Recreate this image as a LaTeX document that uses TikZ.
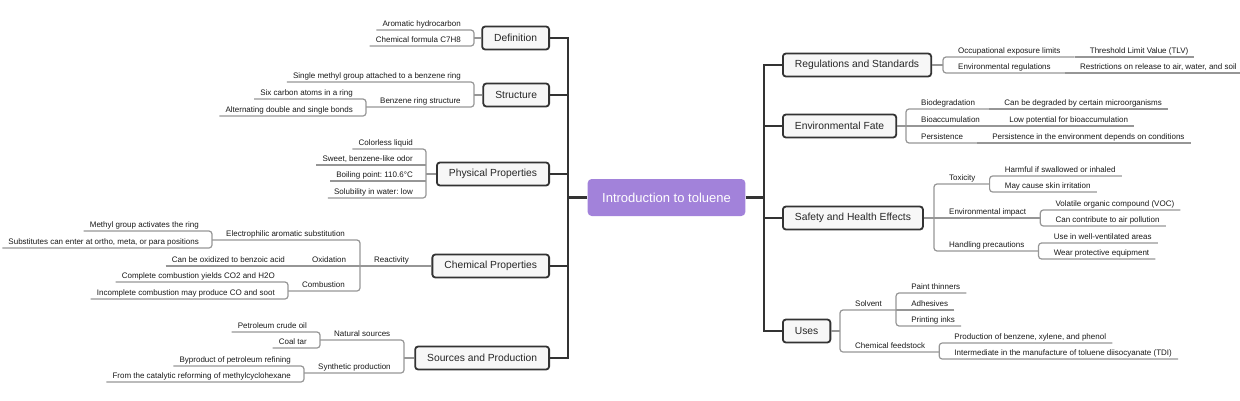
\documentclass[tikz,border=0pt]{standalone}
\usepackage{fontspec}
\setmainfont{Liberation Sans}
\usetikzlibrary{positioning}
\frenchspacing
\definecolor{rootfill}{RGB}{162,130,218}
\definecolor{boxline}{RGB}{51,51,51}
\definecolor{twiggray}{RGB}{150,150,150}
\tikzset{
	topic/.style={draw=boxline, line width=1.8pt, fill=gray!6, rounded corners=3pt, minimum height=23pt, inner xsep=12pt, text=black!85, font=\fontsize{10.3}{12}\selectfont},
	branch/.style={inner xsep=14pt, inner ysep=1.5pt, text height=6pt, text depth=2pt, text=black!90, font=\fontsize{8}{9}\selectfont},
	leaf/.style={branch, inner xsep=6pt},
	trunk/.style={draw=boxline, line width=2.2pt},
	twig/.style={draw=twiggray, line width=1.2pt, rounded corners=3pt}
}

\begin{document}
\begin{tikzpicture}[x=1pt,y=-1pt]
	\useasboundingbox (0,0) rectangle (1240,400);
	\node[fill=rootfill, rounded corners=4pt, text=white, minimum height=37pt, inner xsep=14.5pt, font=\fontsize{13}{15}\selectfont] (root) at (666.5,197.5) {Introduction to toluene};

	\begin{scope}[every node/.append style={anchor=east}]
		\node[topic] (def) at (550,38) {Definition};
		\node[topic] (str) at (550,95) {Structure};
		\node[topic] (phy) at (550,174) {Physical Properties};
		\node[topic] (chem) at (550,266) {Chemical Properties};
		\node[topic] (src) at (550,358) {Sources and Production};
	\end{scope}
	\begin{scope}[every node/.append style={anchor=west}]
		\node[topic] (reg) at (782,65) {Regulations and Standards};
		\node[topic] (fate) at (782,126) {Environmental Fate};
		\node[topic] (safe) at (782,218) {Safety and Health Effects};
		\node[topic] (uses) at (782,331) {Uses};
	\end{scope}

	\coordinate (lt) at (568,197.5);
	\coordinate (rt) at (764,197.5);
	\draw[trunk] (root.west) -- (lt);
	\draw[trunk] (def.east) -| (lt |- src.east) -- (src.east);
	\draw[trunk] (str.east) -- (lt |- str.east);
	\draw[trunk] (phy.east) -- (lt |- phy.east);
	\draw[trunk] (chem.east) -- (lt |- chem.east);
	\draw[trunk] (root.east) -- (rt);
	\draw[trunk] (reg.west) -| (rt |- uses.west) -- (uses.west);
	\draw[trunk] (fate.west) -- (rt |- fate.west);
	\draw[trunk] (safe.west) -- (rt |- safe.west);

	% left side
	\coordinate (bDef) at (474,38);
	\coordinate (bStr) at (474,95);
	\coordinate (bPhy) at (426,174);
	\coordinate (bSrc) at (404,358);
	\begin{scope}[every node/.append style={anchor=south east}]
		\node[leaf] (def1) at (467,30) {Aromatic hydrocarbon};
		\node[leaf] (def2) at (467,46) {Chemical formula C7H8};
		\node[leaf] (str1) at (467,82) {Single methyl group attached to a benzene ring};
		\node[leaf] (str21) at (359,99) {Six carbon atoms in a ring};
		\node[leaf] (str22) at (359,116) {Alternating double and single bonds};
		\node[leaf] (phy1) at (419,149) {Colorless liquid};
		\node[leaf] (phy2) at (419,165) {Sweet, benzene-like odor};
		\node[leaf] (phy3) at (419,181) {Boiling point: 110.6°C};
		\node[leaf] (phy4) at (419,198) {Solubility in water: low};
		\node[leaf] (elec1) at (205,231) {Methyl group activates the ring};
		\node[leaf] (elec2) at (205,248) {Substitutes can enter at ortho, meta, or para positions};
		\node[leaf] (oxid1) at (291,266) {Can be oxidized to benzoic acid};
		\node[leaf] (comb1) at (281,282) {Complete combustion yields CO2 and H2O};
		\node[leaf] (comb2) at (281,299) {Incomplete combustion may produce CO and soot};
		\node[leaf] (nat1) at (313,332) {Petroleum crude oil};
		\node[leaf] (nat2) at (313,348) {Coal tar};
		\node[leaf] (syn1) at (297,366) {Byproduct of petroleum refining};
		\node[leaf] (syn2) at (297,382) {From the catalytic reforming of methylcyclohexane};
	\end{scope}
	\begin{scope}[every node/.append style={anchor=south west}]
		\node[branch] (str2) at (366,107) {Benzene ring structure};
		\node[branch] (react) at (360,266) {Reactivity};
		\node[branch] (elec) at (212,240) {Electrophilic aromatic substitution};
		\node[branch] (oxid) at (298,266) {Oxidation};
		\node[branch] (comb) at (288,291) {Combustion};
		\node[branch] (nat) at (320,340) {Natural sources};
		\node[branch] (syn) at (304,373) {Synthetic production};
	\end{scope}

	\draw[twig] (bDef) -- (def.west);
	\draw[twig] (def1.south west) -| (bDef |- def2.south) -- (def2.south west);
	\draw[twig] (bStr) -- (str.west);
	\draw[twig] (str1.south west) -| (bStr |- str2.south) -- (str2.south west);
	\draw[twig] (str21.south west) -| (str2.south west |- str22.south) -- (str22.south west);
	\draw[twig] (bPhy) -- (phy.west);
	\draw[twig] (phy1.south west) -| (bPhy |- phy4.south) -- (phy4.south west);
	\draw[twig] (phy2.south west) -- (bPhy |- phy2.south);
	\draw[twig] (phy3.south west) -- (bPhy |- phy3.south);
	\draw[twig] (react.south west) -- (chem.west);
	\draw[twig] (elec.south west) -| (react.south west |- comb.south) -- (comb.south west);
	\draw[twig] (oxid.south west) -- (react.south west);
	\draw[twig] (elec1.south west) -| (elec.south west |- elec2.south) -- (elec2.south west);
	\draw[twig] (oxid1.south west) -- (oxid.south west);
	\draw[twig] (comb1.south west) -| (comb.south west |- comb2.south) -- (comb2.south west);
	\draw[twig] (bSrc) -- (src.west);
	\draw[twig] (nat.south west) -| (bSrc |- syn.south) -- (syn.south west);
	\draw[twig] (nat1.south west) -| (nat.south west |- nat2.south) -- (nat2.south west);
	\draw[twig] (syn1.south west) -| (syn.south west |- syn2.south) -- (syn2.south west);

	% right side
	\coordinate (bReg) at (943,65);
	\coordinate (bFate) at (906,126);
	\coordinate (bSafe) at (934,218);
	\coordinate (bUses) at (840,331);
	\begin{scope}[every node/.append style={anchor=south west}]
		\node[branch] (occ) at (944,57) {Occupational exposure limits};
		\node[branch] (law) at (944,73) {Environmental regulations};
		\node[branch] (bio) at (907,109) {Biodegradation};
		\node[branch] (acc) at (907,126) {Bioaccumulation};
		\node[branch] (per) at (907,143) {Persistence};
		\node[branch] (tox) at (935,184) {Toxicity};
		\node[branch] (imp) at (935,218) {Environmental impact};
		\node[branch] (hand) at (935,251) {Handling precautions};
		\node[branch] (solv) at (841,310) {Solvent};
		\node[branch] (feed) at (841,352) {Chemical feedstock};

		\node[leaf] (occ1) at ([xshift=9pt]occ.south east) {Threshold Limit Value (TLV)};
		\node[leaf] (law1) at ([xshift=9pt]law.south east) {Restrictions on release to air, water, and soil};
		\node[leaf] (bio1) at ([xshift=9pt]bio.south east) {Can be degraded by certain microorganisms};
		\node[leaf] (acc1) at ([xshift=9pt]acc.south east) {Low potential for bioaccumulation};
		\node[leaf] (per1) at ([xshift=9pt]per.south east) {Persistence in the environment depends on conditions};
		\node[leaf] (tox1) at ([xshift=9pt,yshift=8pt]tox.south east) {Harmful if swallowed or inhaled};
		\node[leaf] (tox2) at ([xshift=9pt,yshift=-8pt]tox.south east) {May cause skin irritation};
		\node[leaf] (imp1) at ([xshift=9pt,yshift=8pt]imp.south east) {Volatile organic compound (VOC)};
		\node[leaf] (imp2) at ([xshift=9pt,yshift=-8pt]imp.south east) {Can contribute to air pollution};
		\node[leaf] (hand1) at ([xshift=9pt,yshift=8pt]hand.south east) {Use in well-ventilated areas};
		\node[leaf] (hand2) at ([xshift=9pt,yshift=-8pt]hand.south east) {Wear protective equipment};
		\node[leaf] (solv1) at ([xshift=9pt,yshift=17pt]solv.south east) {Paint thinners};
		\node[leaf] (solv2) at ([xshift=9pt]solv.south east) {Adhesives};
		\node[leaf] (solv3) at ([xshift=9pt,yshift=-16pt]solv.south east) {Printing inks};
		\node[leaf] (feed1) at ([xshift=9pt,yshift=9pt]feed.south east) {Production of benzene, xylene, and phenol};
		\node[leaf] (feed2) at ([xshift=9pt,yshift=-7pt]feed.south east) {Intermediate in the manufacture of toluene diisocyanate (TDI)};
	\end{scope}

	\draw[twig] (reg.east) -- (bReg);
	\draw[twig] (occ.south east) -| (bReg |- law.south) -- (law.south east);
	\draw[twig] (occ.south east) -- (occ1.south east);
	\draw[twig] (law.south east) -- (law1.south east);
	\draw[twig] (fate.east) -- (bFate);
	\draw[twig] (bio.south east) -| (bFate |- per.south) -- (per.south east);
	\draw[twig] (acc.south east) -- (bFate |- acc.south);
	\draw[twig] (bio.south east) -- (bio1.south east);
	\draw[twig] (acc.south east) -- (acc1.south east);
	\draw[twig] (per.south east) -- (per1.south east);
	\draw[twig] (safe.east) -- (bSafe);
	\draw[twig] (tox.south east) -| (bSafe |- hand.south) -- (hand.south east);
	\draw[twig] (imp.south east) -- (bSafe |- imp.south);
	\draw[twig] (tox1.south east) -| (tox.south east |- tox2.south) -- (tox2.south east);
	\draw[twig] (imp1.south east) -| (imp.south east |- imp2.south) -- (imp2.south east);
	\draw[twig] (hand1.south east) -| (hand.south east |- hand2.south) -- (hand2.south east);
	\draw[twig] (uses.east) -- (bUses);
	\draw[twig] (solv.south east) -| (bUses |- feed.south) -- (feed.south east);
	\draw[twig] (solv1.south east) -| (solv.south east |- solv3.south) -- (solv3.south east);
	\draw[twig] (solv2.south east) -- (solv.south east);
	\draw[twig] (feed1.south east) -| (feed.south east |- feed2.south) -- (feed2.south east);
\end{tikzpicture}
\end{document}
